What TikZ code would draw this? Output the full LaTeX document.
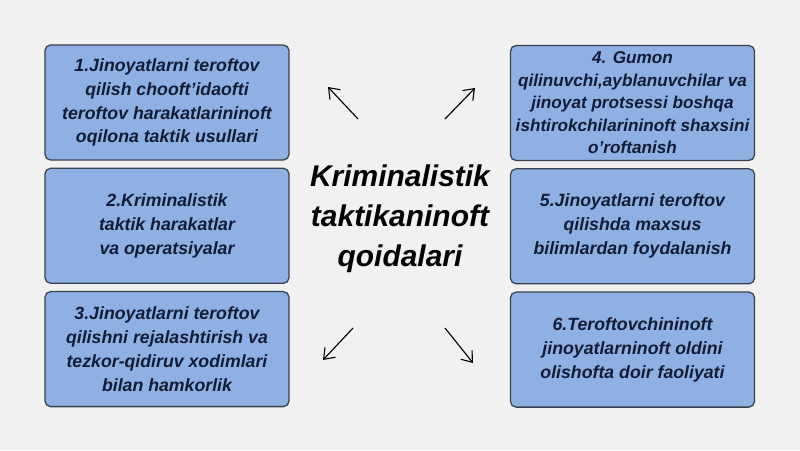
\documentclass[tikz,border=0pt]{standalone}
\usepackage{fontspec}
\setmainfont{Liberation Sans}
\usetikzlibrary{arrows.meta}
\usetikzlibrary{positioning}

\definecolor{boxblue}{HTML}{8FB0E3}
\definecolor{boxline}{HTML}{38424F}
\definecolor{boxtext}{HTML}{121C36}
\definecolor{slidegray}{HTML}{F1F1F1}

\begin{document}
\begin{tikzpicture}[x=0.025cm, y=-0.025cm,
  qbox/.style={draw=boxline, line width=0.9pt, fill=boxblue, rounded corners=4pt,
    minimum width=6.1cm, minimum height=2.875cm, inner sep=1pt, align=center,
    text=boxtext, font=\fontsize{12.6}{17}\selectfont\bfseries\itshape},
  qarrow/.style={-{Straight Barb[length=2.4mm, width=3.6mm]}, line width=0.8pt}]
\fill[slidegray] (0,0) rectangle (800,450); % fon

% markaz
\node[font=\fontsize{21.3}{28.3}\selectfont\bfseries\itshape, align=center] (title) at (400,219)
  {Kriminalistik\\ taktikaninoft\\ qoidalari};

% chap ustun
\node[qbox] (box1) at (167,102.5) {1.Jinoyatlarni teroftov\\ qilish chooft'idaofti\\ teroftov harakatlarininoft\\ oqilona taktik usullari};
\node[qbox, below=0.175cm of box1] (box2) {2.Kriminalistik\\ taktik harakatlar\\ va operatsiyalar};
\node[qbox, below=0.175cm of box2] (box3) {3.Jinoyatlarni teroftov\\ qilishni rejalashtirish va\\ tezkor-qidiruv xodimlari\\ bilan hamkorlik};

% o'ng ustun
\node[qbox, font=\fontsize{12.2}{16}\selectfont\bfseries\itshape] (box4) at (632.5,103) {4. Gumon\\ qilinuvchi,ayblanuvchilar va\\ jinoyat protsessi boshqa\\ ishtirokchilarininoft shaxsini\\ o'roftanish};
\node[qbox, below=0.175cm of box4] (box5) {5.Jinoyatlarni teroftov\\ qilishda maxsus\\ bilimlardan foydalanish};
\node[qbox, below=0.175cm of box5] (box6) {6.Teroftovchininoft\\ jinoyatlarninoft oldini\\ olishofta doir faoliyati};

% strelkalar
\coordinate (nw-s) at (358,119); \coordinate (nw-e) at (328,87);
\coordinate (ne-s) at (445,119); \coordinate (ne-e) at (475,88);
\coordinate (sw-s) at (353,328); \coordinate (sw-e) at (323,360);
\coordinate (se-s) at (445,328); \coordinate (se-e) at (473,363);
\draw[qarrow] (nw-s) -- (nw-e);
\draw[qarrow] (ne-s) -- (ne-e);
\draw[qarrow] (sw-s) -- (sw-e);
\draw[qarrow] (se-s) -- (se-e);
\end{tikzpicture}
\end{document}
